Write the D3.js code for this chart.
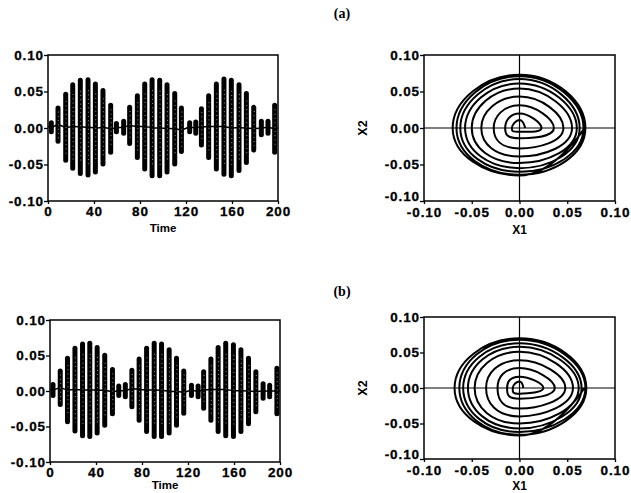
<!DOCTYPE html>
<html><head><meta charset="utf-8">
<script src="https://cdn.jsdelivr.net/npm/d3@7"></script>
<style>
body{margin:0;background:#fff}
svg{display:block}
text{font-family:"Liberation Sans",Arial,sans-serif;font-weight:bold;fill:#000}
</style></head>
<body><svg id="c" width="631" height="493"></svg>
<script>
// ---------- data ----------
const timeTicks = [0, 40, 80, 120, 160, 200];
const valueTicks = [-0.10, -0.05, 0.00, 0.05, 0.10];
const phaseTicks = [-0.10, -0.05, 0.00, 0.05, 0.10];
const panelLabels = ["(a)", "(b)"];

// time series (a): each oscillation burst -> time, upper and lower extreme
const stripeTimeA = [2.9, 8.7, 15.4, 21.5, 28.1, 34.8, 41.2, 47.8, 54.5, 59.5, 65.8, 71.0, 77.7, 84.1, 90.5, 97.1, 103.5, 110.2, 116.0, 123.2, 128.5, 133.4, 139.7, 146.4, 153.0, 159.4, 166.1, 172.5, 178.9, 185.5, 191.3, 197.1];
const stripeHighA = [0.010, 0.030, 0.049, 0.062, 0.068, 0.069, 0.063, 0.054, 0.034, 0.009, 0.012, 0.031, 0.047, 0.063, 0.069, 0.068, 0.062, 0.050, 0.030, 0.010, 0.011, 0.029, 0.047, 0.063, 0.070, 0.068, 0.062, 0.050, 0.031, 0.012, 0.012, 0.034];
const stripeLowA  = [-0.008, -0.021, -0.047, -0.058, -0.065, -0.067, -0.063, -0.052, -0.036, -0.008, -0.010, -0.024, -0.043, -0.059, -0.068, -0.068, -0.063, -0.052, -0.035, -0.008, -0.010, -0.026, -0.043, -0.059, -0.066, -0.068, -0.061, -0.050, -0.033, -0.012, -0.010, -0.036];

// time series (b)
const stripeTimeB = [2.6, 8.9, 15.2, 21.7, 28.3, 34.6, 41.0, 47.6, 54.3, 59.8, 65.5, 71.2, 77.5, 84.0, 90.6, 97.0, 103.6, 110.0, 116.3, 123.0, 128.8, 133.6, 139.9, 146.2, 152.8, 159.5, 166.0, 172.6, 179.0, 185.3, 191.0, 197.3];
const stripeHighB = [0.012, 0.031, 0.049, 0.063, 0.069, 0.070, 0.064, 0.053, 0.033, 0.010, 0.012, 0.032, 0.048, 0.063, 0.070, 0.069, 0.061, 0.049, 0.031, 0.011, 0.010, 0.030, 0.048, 0.064, 0.070, 0.068, 0.061, 0.049, 0.030, 0.013, 0.011, 0.035];
const stripeLowB  = [-0.009, -0.022, -0.046, -0.059, -0.066, -0.067, -0.062, -0.051, -0.035, -0.009, -0.011, -0.025, -0.044, -0.060, -0.067, -0.067, -0.062, -0.051, -0.034, -0.009, -0.011, -0.027, -0.044, -0.060, -0.066, -0.067, -0.060, -0.049, -0.032, -0.013, -0.011, -0.035];

// phase portraits: successive axis crossings of the trajectory (X1, X2)
const phaseX1A = [0.006, 0, -0.008, 0, 0.023, 0, -0.015, 0, 0.036, 0, -0.027, 0, 0.046, 0, -0.040, 0, 0.055, 0, -0.050, 0, 0.060, 0, -0.057, 0, 0.063, 0, -0.062, 0, 0.067, 0, -0.066, 0, 0.069, 0, -0.070, 0, 0.068];
const phaseX2A = [0, 0.011, 0, -0.005, 0, 0.020, 0, -0.014, 0, 0.031, 0, -0.028, 0, 0.043, 0, -0.039, 0, 0.054, 0, -0.048, 0, 0.061, 0, -0.055, 0, 0.067, 0, -0.060, 0, 0.071, 0, -0.064, 0, 0.073, 0, -0.065, 0];
const phaseX1B = [0.004, 0, -0.007, 0, 0.025, 0, -0.013, 0, 0.037, 0, -0.023, 0, 0.048, 0, -0.035, 0, 0.056, 0, -0.047, 0, 0.062, 0, -0.054, 0, 0.065, 0, -0.059, 0, 0.069, 0, -0.063, 0, 0.070, 0, -0.068, 0, 0.068];
const phaseX2B = [0, 0.009, 0, -0.008, 0, 0.016, 0, -0.015, 0, 0.028, 0, -0.029, 0, 0.039, 0, -0.040, 0, 0.051, 0, -0.050, 0, 0.058, 0, -0.057, 0, 0.063, 0, -0.062, 0, 0.068, 0, -0.066, 0, 0.070, 0, -0.067, 0];

// ---------- drawing ----------
const svg = d3.select("#c");
const fmt = d => d.toFixed(2);

function frame(g, w, h) {
  g.append("rect").attr("x", 0).attr("y", 0).attr("width", w).attr("height", h)
    .attr("fill", "none").attr("stroke", "#000").attr("stroke-width", 1.5);
}
function styleAxis(sel) {
  sel.select(".domain").remove();
  sel.selectAll(".tick line").attr("stroke", "#000").attr("stroke-width", 1.3);
  sel.selectAll(".tick text").style("font-size", "13.5px").style("letter-spacing", "0.9px")
    .attr("fill", "#000").attr("stroke", "#000").attr("stroke-width", 0.3);
}

function timePanel(left, top, w, h, times, highs, lows, titleOffset) {
  const g = svg.append("g").attr("transform", `translate(${left},${top})`);
  const x = d3.scaleLinear().domain([0, 200]).range([0, w]);
  const y = d3.scaleLinear().domain([-0.1, 0.1]).range([h, 0]);
  const centres = times.map((t, i) => [t, (highs[i] + lows[i]) / 2]);
  g.append("path").datum([[0, 0.002], ...centres, [200, 0.0]])
    .attr("fill", "none").attr("stroke", "#000").attr("stroke-width", 1.5)
    .attr("d", d3.line().x(d => x(d[0])).y(d => y(d[1])).curve(d3.curveMonotoneX));
  g.selectAll("line.s").data(times).join("line").attr("class", "s")
    .attr("x1", d => x(d)).attr("x2", d => x(d))
    .attr("y1", (d, i) => y(highs[i]) + 2).attr("y2", (d, i) => y(lows[i]) - 2)
    .attr("stroke", "#000").attr("stroke-width", 5).attr("stroke-linecap", "round");
  g.selectAll("line.p").data(times.filter((d, i) => highs[i] > 0.025)).join("line").attr("class", "p")
    .attr("x1", d => x(d) + 0.4).attr("x2", d => x(d) + 0.4)
    .attr("y1", d => y(highs[times.indexOf(d)] * 0.75)).attr("y2", d => y(lows[times.indexOf(d)] * 0.75))
    .attr("stroke", "#fff").attr("stroke-width", 0.9).attr("stroke-dasharray", "0.9 3.4").attr("opacity", 0.7);
  frame(g, w, h);
  g.append("g").attr("transform", `translate(0,${h})`)
    .call(d3.axisBottom(x).tickValues(timeTicks).tickSize(3).tickPadding(2).tickSizeOuter(0))
    .call(styleAxis);
  g.append("g").call(d3.axisLeft(y).tickValues(valueTicks).tickFormat(fmt).tickSize(4).tickPadding(0).tickSizeOuter(0))
    .call(styleAxis);
  g.append("text").attr("x", w / 2).attr("y", h + titleOffset).attr("text-anchor", "middle")
    .style("font-size", "11.5px").text("Time");
}

function phasePanel(left, top, w, h, xs, ys, titleOffset) {
  const g = svg.append("g").attr("transform", `translate(${left},${top})`);
  const x = d3.scaleLinear().domain([-0.1, 0.1]).range([0, w]);
  const y = d3.scaleLinear().domain([-0.1, 0.1]).range([h, 0]);
  g.append("line").attr("x1", x(0)).attr("x2", x(0)).attr("y1", 0).attr("y2", h).attr("stroke", "#000").attr("stroke-width", 1.2);
  g.append("line").attr("x1", 0).attr("x2", w).attr("y1", y(0)).attr("y2", y(0)).attr("stroke", "#000").attr("stroke-width", 1.2);
  const pts = xs.map((v, i) => [v, ys[i]]);
  g.append("path").datum(pts).attr("fill", "none").attr("stroke", "#000").attr("stroke-width", 2)
    .attr("d", d3.line().x(d => x(d[0])).y(d => y(d[1])).curve(d3.curveCardinal.tension(-0.6)));
  frame(g, w, h);
  g.append("g").attr("transform", `translate(0,${h})`)
    .call(d3.axisBottom(x).tickValues(phaseTicks).tickFormat(fmt).tickSize(3).tickPadding(3).tickSizeOuter(0))
    .call(styleAxis);
  const ya = g.append("g").call(d3.axisLeft(y).tickValues(phaseTicks).tickFormat(fmt).tickSize(4).tickPadding(0).tickSizeOuter(0))
    .call(styleAxis);
  // lowest label sits just above the x-axis labels, as in the original
  ya.selectAll(".tick").filter(d => d === -0.10).select("text").attr("dy", "-0.05em");
  g.append("text").attr("x", w / 2).attr("y", h + titleOffset).attr("text-anchor", "middle")
    .style("font-size", "12px").text("X1");
  g.append("text").attr("transform", `translate(${-57},${h / 2}) rotate(-90)`).attr("text-anchor", "middle")
    .style("font-size", "12.5px").text("X2");
}

svg.append("text").attr("x", 342).attr("y", 18).attr("text-anchor", "middle")
  .style("font-family", "'Liberation Serif',serif").style("font-size", "14px").text(panelLabels[0]);
svg.append("text").attr("x", 342).attr("y", 296).attr("text-anchor", "middle")
  .style("font-family", "'Liberation Serif',serif").style("font-size", "14px").text(panelLabels[1]);

timePanel(48, 55, 230, 146, stripeTimeA, stripeHighA, stripeLowA, 31);
phasePanel(424, 55, 191, 146, phaseX1A, phaseX2A, 33);
timePanel(50, 320, 230, 142, stripeTimeB, stripeHighB, stripeLowB, 27);
phasePanel(424, 317, 191, 142, phaseX1B, phaseX2B, 31);
</script></body></html>
